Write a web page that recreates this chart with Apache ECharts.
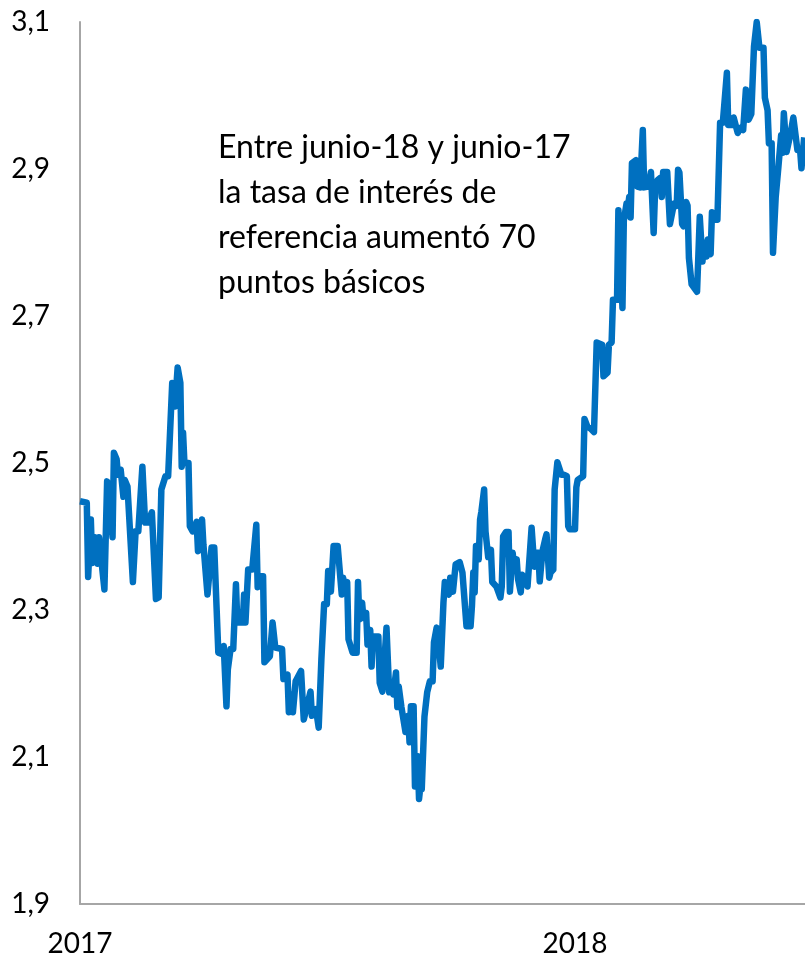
<!DOCTYPE html>
<html>
<head>
<meta charset="utf-8">
<script src="https://cdn.jsdelivr.net/npm/echarts@6/dist/echarts.min.js"></script>
<style>html,body{margin:0;padding:0;background:#fff}#chart{width:805px;height:958px}</style>
</head>
<body>
<div id="chart"></div>
<script>
// Days since 1 Jan 2017
const days = [0,5,6,8,9,11,13,14,15,18,20,21,24,25,27,28,30,32,33,35,36,39,41,43,46,48,50,53,56,58,60,63,65,68,69,70,72,74,75,76,77,80,81,83,86,87,88,90,91,94,95,96,97,99,102,105,106,108,109,111,113,115,116,120,121,122,124,127,130,131,133,135,136,140,142,144,149,150,153,154,156,157,159,163,165,170,171,174,176,178,180,182,183,185,187,190,193,194,195,197,198,201,204,205,206,208,209,211,212,214,215,216,220,221,223,224,226,228,230,231,233,234,235,237,238,240,242,243,244,246,247,249,250,251,252,254,256,258,260,261,263,264,266,268,269,270,271,272,273,275,277,280,282,285,288,289,290,291,292,293,294,295,296,298,299,301,303,304,307,310,311,312,314,316,317,319,320,322,323,325,326,327,330,331,333,334,335,336,338,339,341,343,344,346,347,349,350,352,355,357,359,360,361,365,366,367,371,372,374,377,379,381,385,386,389,390,392,393,396,397,398,400,401,403,404,405,406,407,410,411,413,415,416,419,421,423,424,426,428,429,430,433,435,436,438,440,441,442,444,445,447,448,449,451,452,455,457,459,460,462,463,465,466,468,470,472,474,477,478,481,482,485,487,489,491,493,494,495,497,499,501,504,505,507,508,510,511,513,515,516,517,518,519,521,524,526,529,531,532,533,534];
// Reference interest rate (%)
const values = [2.448,2.446,2.345,2.423,2.364,2.399,2.363,2.399,2.399,2.328,2.475,2.468,2.399,2.514,2.505,2.484,2.491,2.454,2.477,2.468,2.468,2.338,2.407,2.407,2.495,2.419,2.419,2.433,2.315,2.317,2.464,2.482,2.482,2.609,2.604,2.577,2.630,2.609,2.495,2.541,2.500,2.500,2.414,2.407,2.420,2.380,2.380,2.423,2.389,2.321,2.342,2.342,2.385,2.385,2.242,2.240,2.251,2.169,2.219,2.247,2.247,2.335,2.283,2.283,2.321,2.283,2.355,2.355,2.416,2.331,2.346,2.346,2.229,2.237,2.283,2.249,2.247,2.206,2.212,2.161,2.185,2.161,2.203,2.217,2.151,2.189,2.156,2.165,2.140,2.233,2.308,2.308,2.353,2.325,2.387,2.387,2.321,2.344,2.325,2.338,2.260,2.242,2.242,2.338,2.287,2.310,2.289,2.296,2.253,2.273,2.223,2.264,2.264,2.201,2.189,2.189,2.276,2.188,2.192,2.185,2.215,2.168,2.196,2.168,2.168,2.134,2.156,2.120,2.169,2.169,2.060,2.101,2.043,2.060,2.056,2.155,2.188,2.203,2.203,2.256,2.276,2.264,2.223,2.310,2.338,2.335,2.335,2.321,2.344,2.325,2.362,2.365,2.351,2.278,2.278,2.305,2.351,2.324,2.387,2.387,2.369,2.423,2.434,2.464,2.407,2.372,2.382,2.338,2.332,2.317,2.332,2.400,2.406,2.406,2.325,2.378,2.362,2.369,2.342,2.324,2.348,2.348,2.332,2.332,2.412,2.412,2.359,2.378,2.378,2.339,2.380,2.396,2.403,2.344,2.351,2.355,2.464,2.501,2.484,2.484,2.482,2.414,2.410,2.410,2.467,2.477,2.482,2.560,2.550,2.546,2.542,2.664,2.661,2.618,2.623,2.661,2.664,2.722,2.722,2.844,2.844,2.711,2.830,2.853,2.848,2.862,2.834,2.908,2.912,2.876,2.875,2.953,2.875,2.876,2.896,2.813,2.868,2.885,2.888,2.862,2.896,2.896,2.825,2.825,2.853,2.850,2.899,2.895,2.825,2.822,2.855,2.850,2.779,2.743,2.743,2.733,2.835,2.774,2.800,2.781,2.804,2.784,2.841,2.831,2.831,2.963,2.963,3.031,2.960,2.960,2.970,2.949,2.956,2.953,3.008,2.967,2.971,2.975,3.067,3.100,3.065,3.065,2.997,2.980,2.935,2.935,2.786,2.862,2.903,2.903,2.946,2.922,2.976,2.923,2.949,2.970,2.926,2.926,2.901,2.900,2.943];
const yTicks = [1.9, 2.1, 2.3, 2.5, 2.7, 2.9, 3.1];
const xTickDays = [0, 365];
const xTickLabels = ['2017', '2018'];
const annotation = ['Entre junio-18 y junio-17', 'la tasa de interés de', 'referencia aumentó 70', 'puntos básicos'];

const FONT = 'Lato, "Open Sans", sans-serif';
const chart = echarts.init(document.getElementById('chart'), null, {renderer: 'canvas'});
chart.setOption({
  animation: false,
  backgroundColor: '#fff',
  grid: {left: 80, right: 0, top: 22, bottom: 53, containLabel: false},
  xAxis: {
    type: 'value', min: 0, max: 534.6,
    splitLine: {show: false},
    axisTick: {show: false},
    axisLine: {lineStyle: {color: '#a6a6a6', width: 2}},
    axisLabel: {
      customValues: xTickDays,
      formatter: v => xTickLabels[xTickDays.indexOf(v)] || '',
      color: '#000', fontSize: 28, fontFamily: FONT, margin: 26
    }
  },
  yAxis: {
    type: 'value', min: 1.9, max: 3.1,
    splitLine: {show: false},
    axisTick: {show: false},
    axisLine: {show: true, lineStyle: {color: '#a6a6a6', width: 2}},
    axisLabel: {
      customValues: yTicks,
      formatter: v => v.toFixed(1).replace('.', ','),
      color: '#000', fontSize: 28, fontFamily: FONT, margin: 30
    }
  },
  graphic: [{
    type: 'text', left: 218, top: 125,
    style: {text: annotation.join('\n'), fill: '#000', font: '32px ' + FONT, lineHeight: 45}
  }],
  series: [{
    type: 'line',
    data: days.map((d, i) => [d, values[i]]),
    showSymbol: false,
    lineStyle: {color: '#0070C0', width: 6.5, join: 'round'},
    clip: true
  }]
});
</script>
</body>
</html>
